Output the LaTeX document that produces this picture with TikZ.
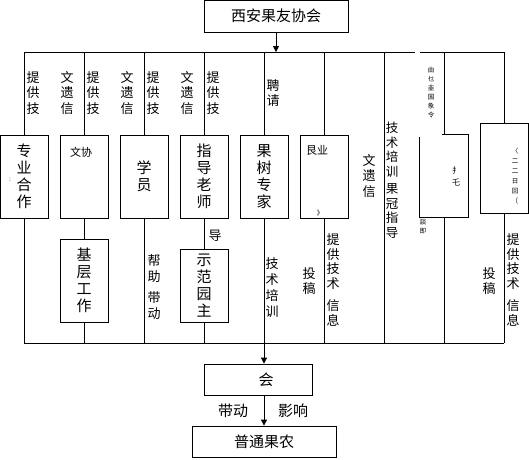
\documentclass[tikz,border=0pt]{standalone}
\usepackage{fontspec}
\setmainfont{Noto Sans CJK SC}
\usetikzlibrary{arrows.meta,positioning}

\begin{document}
\begin{tikzpicture}[x=1pt, y=-1pt, line width=0.8pt,
  box/.style={draw, minimum width=48pt, minimum height=83pt, inner sep=0pt, font=\fontsize{15}{17}\selectfont, align=center},
  hbox/.style={draw, inner sep=0pt, font=\fontsize{15}{16}\selectfont},
  lab/.style={font=\fontsize{13}{15.5}\selectfont, align=center, inner sep=0pt},
  note/.style={font=\fontsize{11}{12}\selectfont, inner sep=0pt},
  tiny/.style={font=\fontsize{6.5}{9}\selectfont, align=center, inner sep=0pt},
  arr/.style={-{Triangle[width=6pt,length=6pt]}},
]
\useasboundingbox (0,0) rectangle (529,459);

\node[hbox, minimum width=144pt, minimum height=32pt] (xian) at (276,16) {西安果友协会};

\foreach \x [count=\i] in {24,84,...,504} {
  \coordinate (t\i) at (\x,52);
  \coordinate (b\i) at (\x,343);
}
\coordinate (gapl) at (415,52);
\coordinate (gapr) at (420,52);

\draw[arr] (xian.south) -- (xian.south |- t5);
\draw (t1) -- (gapl);
\draw (gapr) -- (t9);

% upper row of boxes
\node[box] (zhuanye) at (24,176.5) {专\\业\\合\\作};
\node[box] (wenxie) at (84,176.5) {};
\node[box] (xueyuan) at (144,176.5) {学\\员};
\node[box] (zhidao) at (204,176.5) {指\\导\\老\\师};
\node[box] (zhuanjia) at (264,176.5) {果\\树\\专\\家};
\node[box] (jiuye) at (324,176.5) {};
\node[box, draw=none, minimum height=82pt] (mbox) at (444,176) {};
\node[box, minimum height=90pt] (rbox) at (504,168) {};
\draw ([xshift=22pt]mbox.north west) -- (mbox.north east) -- (mbox.south east) -- (mbox.south west) -- ([yshift=-2pt]mbox.north west);

\node[note] (wenxiet) at (81,152) {文协};
\node[note] (jiuyet) at (317,150) {艮业};
\node[tiny] (jiuyem) at (320,213) {》};
\node[tiny] (zhuanyem) at (10,180) {:};

% lower row of boxes
\node[box] (jiceng) at (84,280.5) {基\\层\\工\\作};
\node[box, minimum height=73pt] (shifan) at (204,285.5) {示\\范\\园\\主};

% connectors
\draw (t1) -- (zhuanye);
\draw (t2) -- (wenxie);
\draw (t3) -- (xueyuan);
\draw (t4) -- (zhidao);
\draw (t5) -- (zhuanjia);
\draw (t6) -- (jiuye);
\draw (t7) -- (b7);
\draw (t8) -- (mbox);
\draw (t9) -- (rbox);
\draw (zhuanye) -- (b1);
\draw (wenxie) -- (jiceng);
\draw (jiceng) -- (b2);
\draw (xueyuan) -- (b3);
\draw (zhidao) -- (shifan);
\draw (shifan) -- (b4);
\draw (zhuanjia) -- (b5);
\draw (jiuye) -- (b6);
\draw (mbox) -- (b8);
\draw (rbox) -- (b9);
\draw (b1) -- (b9);

% labels on the upper lines
\foreach \x in {24,84,144} {
  \node[lab] (ti\x) at ({\x+9},93) {提\\供\\技};
  \node[lab] (jl\x) at ({\x+43},93) {文\\遗\\信};
}
\node[lab] (ti204) at (213,93) {提\\供\\技};
\node[lab] (pinqing) at (273,93) {聘\\请};
\node[lab] (jl324) at (369,176) {文\\遗\\信};
\node[lab, font=\fontsize{12.5}{14.5}\selectfont] (peixun) at (392,180) {技\\术\\培\\训\\[3pt]果\\冠\\指\\导};
\node[tiny] (mtop) at (431,93) {由\\乜\\韭\\国\\象\\令};
\node[tiny, font=\fontsize{8}{12}\selectfont] (mmid) at (456,176) {扌\\乇};
\node[tiny, font=\fontsize{6.5}{10}\selectfont] (rmid) at (515,176) {〈\\二\\二\\日\\回\\〔};
\node[tiny] (mlow) at (423,227) {談\\即};

% labels on the lower lines
\node[lab] (dao) at (215,236) {导};
\node[lab] (bangzhu) at (154,287) {帮\\助\\[6pt]带\\动};
\node[lab, font=\fontsize{13}{16}\selectfont] (peixun2) at (272,288) {技\\术\\培\\训};
\node[lab] (tougao1) at (309,281) {投\\稿};
\node[lab, font=\fontsize{13}{14.5}\selectfont] (xinxi1) at (333,280) {提\\供\\技\\术\\[8pt]信\\息};
\node[lab] (tougao2) at (489,281) {投\\稿};
\node[lab, font=\fontsize{13}{14.5}\selectfont] (xinxi2) at (513,280) {提\\供\\技\\术\\[8pt]信\\息};

% bottom
\node[hbox, minimum width=108pt, minimum height=31pt] (xiehui) at (258.5,379.5) {\hspace*{15pt}会};
\node[hbox, minimum width=144pt, minimum height=31pt] (guonong) at (264,441.5) {普通果农};
\draw[arr] (b5) -- (b5 |- xiehui.north);
\draw[arr] (b5 |- xiehui.south) -- (guonong);
\node[lab, font=\fontsize{15}{16}\selectfont] (daidong) at (233,411) {带动};
\node[lab, font=\fontsize{15}{16}\selectfont] (yingxiang) at (293,411) {影响};
\end{tikzpicture}
\end{document}
